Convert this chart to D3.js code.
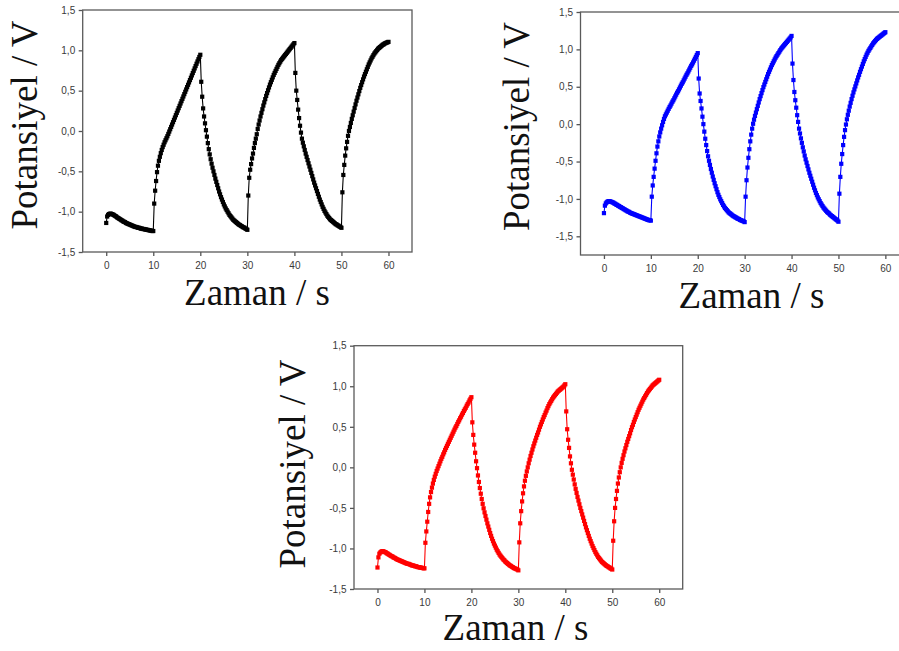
<!DOCTYPE html>
<html>
<head>
<meta charset="utf-8">
<script src="https://cdn.jsdelivr.net/npm/d3@7"></script>
<style>
  body { margin: 0; background: #fff; }
  svg { display: block; }
  .tick text { font-family: "Liberation Sans", Arial, sans-serif; font-size: 10px; fill: #3a3a3a; }
  .tick line { stroke: #555; stroke-width: 1.3; }
  .title { font-family: "Liberation Serif", "Times New Roman", serif; font-size: 37px; fill: #111; }
</style>
</head>
<body>
<svg id="chart" width="899" height="651"></svg>
<script>
// samples are 0.2 s apart, from 0 to 60 s
const timeStep = 0.2;
const xTicks = [0, 10, 20, 30, 40, 50, 60];
const yTicks = [-1.5, -1, -0.5, 0, 0.5, 1, 1.5];
const xTitle = "Zaman / s";
const yTitle = "Potansiyel / V";

// potential (V), top-left panel
const blackPotential = [
  -1.14,-1.06,-1.04,-1.03,-1.025,-1.025,-1.03,-1.035,-1.04,-1.05,
  -1.055,-1.065,-1.075,-1.08,-1.09,-1.095,-1.105,-1.11,-1.12,-1.125,
  -1.13,-1.14,-1.145,-1.15,-1.155,-1.16,-1.165,-1.17,-1.175,-1.18,
  -1.185,-1.19,-1.19,-1.195,-1.2,-1.2,-1.205,-1.21,-1.21,-1.215,
  -1.215,-1.22,-1.22,-1.225,-1.225,-1.23,-1.23,-1.235,-1.235,-1.24,
  -1.24,
  -0.9,-0.74,-0.62,-0.51,-0.43,-0.37,-0.32,-0.275,-0.235,-0.2,
  -0.17,-0.14,-0.115,-0.09,-0.065,-0.036,-0.007,0.022,0.051,0.08,
  0.109,0.138,0.167,0.196,0.225,0.254,0.283,0.312,0.341,0.37,
  0.399,0.428,0.457,0.486,0.515,0.544,0.573,0.602,0.631,0.66,
  0.689,0.718,0.747,0.776,0.805,0.834,0.862,0.89,0.918,0.945,
  0.61,0.425,0.28,0.18,0.095,0.01,-0.07,-0.15,-0.225,-0.29,
  -0.35,-0.405,-0.455,-0.5,-0.545,-0.59,-0.63,-0.67,-0.71,-0.75,
  -0.785,-0.82,-0.85,-0.88,-0.91,-0.935,-0.96,-0.98,-1.0,-1.02,
  -1.04,-1.055,-1.07,-1.085,-1.1,-1.11,-1.12,-1.13,-1.14,-1.15,
  -1.16,-1.165,-1.175,-1.18,-1.19,-1.195,-1.2,-1.21,-1.215,-1.225,
  -0.8,-0.58,-0.48,-0.41,-0.34,-0.28,-0.21,-0.15,-0.095,-0.04,
  0.025,0.08,0.13,0.18,0.225,0.27,0.315,0.355,0.395,0.435,
  0.47,0.505,0.54,0.575,0.605,0.635,0.665,0.695,0.72,0.745,
  0.77,0.795,0.82,0.84,0.86,0.88,0.895,0.91,0.925,0.94,
  0.955,0.97,0.985,1.0,1.015,1.03,1.045,1.06,1.075,1.09,
  0.72,0.5,0.385,0.265,0.16,0.065,-0.02,-0.095,-0.145,-0.19,
  -0.235,-0.28,-0.32,-0.36,-0.4,-0.44,-0.48,-0.52,-0.56,-0.6,
  -0.64,-0.675,-0.71,-0.745,-0.78,-0.815,-0.85,-0.88,-0.91,-0.94,
  -0.965,-0.99,-1.01,-1.03,-1.05,-1.065,-1.08,-1.095,-1.105,-1.115,
  -1.125,-1.135,-1.145,-1.155,-1.16,-1.17,-1.175,-1.185,-1.19,-1.2,
  -0.76,-0.545,-0.42,-0.305,-0.215,-0.135,-0.06,0.0,0.05,0.1,
  0.15,0.195,0.24,0.285,0.33,0.375,0.415,0.455,0.495,0.535,
  0.57,0.605,0.64,0.675,0.705,0.735,0.765,0.795,0.825,0.85,
  0.875,0.9,0.92,0.94,0.96,0.975,0.99,1.005,1.02,1.03,
  1.04,1.05,1.06,1.07,1.075,1.085,1.09,1.095,1.1,1.105
];

// potential (V), top-right panel
const bluePotential = [
  -1.19,-1.09,-1.06,-1.045,-1.035,-1.03,-1.03,-1.035,-1.04,-1.045,
  -1.05,-1.06,-1.065,-1.075,-1.08,-1.09,-1.095,-1.105,-1.11,-1.12,
  -1.125,-1.135,-1.14,-1.15,-1.155,-1.165,-1.17,-1.175,-1.185,-1.19,
  -1.195,-1.2,-1.205,-1.21,-1.215,-1.22,-1.225,-1.23,-1.235,-1.24,
  -1.245,-1.25,-1.255,-1.26,-1.265,-1.27,-1.275,-1.28,-1.285,-1.285,
  -1.29,
  -0.97,-0.82,-0.705,-0.595,-0.49,-0.39,-0.3,-0.23,-0.165,-0.11,
  -0.06,-0.015,0.03,0.07,0.105,0.13,0.155,0.18,0.205,0.23,
  0.25,0.275,0.3,0.32,0.345,0.37,0.395,0.42,0.44,0.465,
  0.49,0.515,0.54,0.56,0.585,0.61,0.635,0.66,0.68,0.705,
  0.73,0.755,0.78,0.8,0.825,0.85,0.875,0.9,0.925,0.95,
  0.61,0.41,0.31,0.21,0.1,0.0,-0.1,-0.195,-0.28,-0.36,
  -0.43,-0.49,-0.545,-0.6,-0.65,-0.7,-0.745,-0.79,-0.83,-0.87,
  -0.91,-0.945,-0.975,-1.005,-1.03,-1.055,-1.08,-1.1,-1.12,-1.135,
  -1.15,-1.165,-1.18,-1.19,-1.2,-1.21,-1.22,-1.23,-1.235,-1.245,
  -1.25,-1.26,-1.265,-1.27,-1.28,-1.285,-1.29,-1.295,-1.3,-1.31,
  -0.97,-0.75,-0.58,-0.45,-0.335,-0.23,-0.14,-0.06,0.005,0.06,
  0.11,0.155,0.2,0.245,0.29,0.335,0.375,0.415,0.455,0.495,
  0.53,0.565,0.6,0.635,0.67,0.7,0.73,0.76,0.79,0.815,
  0.84,0.865,0.89,0.91,0.93,0.95,0.97,0.99,1.01,1.025,
  1.04,1.055,1.07,1.085,1.1,1.115,1.13,1.145,1.16,1.18,
  0.81,0.59,0.43,0.32,0.22,0.12,0.03,-0.06,-0.125,-0.19,
  -0.25,-0.31,-0.365,-0.42,-0.47,-0.515,-0.56,-0.605,-0.65,-0.69,
  -0.73,-0.77,-0.81,-0.85,-0.885,-0.92,-0.95,-0.98,-1.005,-1.03,
  -1.055,-1.075,-1.095,-1.115,-1.13,-1.145,-1.16,-1.175,-1.185,-1.195,
  -1.21,-1.22,-1.23,-1.24,-1.25,-1.26,-1.27,-1.28,-1.29,-1.305,
  -0.93,-0.705,-0.53,-0.4,-0.28,-0.17,-0.08,-0.005,0.065,0.125,
  0.18,0.235,0.285,0.335,0.38,0.425,0.465,0.505,0.545,0.585,
  0.625,0.66,0.7,0.735,0.77,0.805,0.84,0.87,0.9,0.93,
  0.955,0.98,1.0,1.02,1.04,1.06,1.08,1.095,1.11,1.125,
  1.14,1.15,1.16,1.17,1.18,1.19,1.2,1.21,1.22,1.23
];

// potential (V), bottom panel
const redPotential = [
  -1.235,-1.11,-1.065,-1.05,-1.04,-1.035,-1.035,-1.04,-1.045,-1.05,
  -1.06,-1.065,-1.075,-1.08,-1.09,-1.095,-1.1,-1.11,-1.115,-1.12,
  -1.13,-1.135,-1.14,-1.145,-1.15,-1.155,-1.16,-1.165,-1.17,-1.175,
  -1.18,-1.185,-1.19,-1.19,-1.195,-1.2,-1.205,-1.21,-1.21,-1.215,
  -1.22,-1.22,-1.225,-1.23,-1.23,-1.235,-1.235,-1.24,-1.24,-1.245,
  -1.245,
  -0.93,-0.79,-0.67,-0.55,-0.45,-0.37,-0.305,-0.25,-0.2,-0.155,
  -0.115,-0.08,-0.045,-0.015,0.015,0.045,0.075,0.105,0.13,0.16,
  0.185,0.215,0.24,0.265,0.29,0.315,0.34,0.365,0.39,0.415,
  0.44,0.465,0.49,0.51,0.535,0.56,0.58,0.605,0.625,0.65,
  0.67,0.695,0.715,0.735,0.76,0.78,0.8,0.825,0.845,0.865,
  0.555,0.4,0.28,0.18,0.075,-0.01,-0.1,-0.18,-0.255,-0.325,
  -0.39,-0.45,-0.505,-0.555,-0.6,-0.645,-0.69,-0.73,-0.77,-0.81,
  -0.845,-0.88,-0.91,-0.94,-0.965,-0.99,-1.015,-1.035,-1.055,-1.075,
  -1.09,-1.105,-1.12,-1.135,-1.145,-1.16,-1.17,-1.18,-1.19,-1.2,
  -1.21,-1.215,-1.225,-1.23,-1.24,-1.245,-1.25,-1.255,-1.26,-1.27,
  -0.925,-0.69,-0.54,-0.42,-0.32,-0.235,-0.165,-0.105,-0.05,0.0,
  0.05,0.095,0.14,0.18,0.22,0.26,0.295,0.33,0.365,0.4,
  0.43,0.465,0.5,0.53,0.56,0.59,0.62,0.645,0.675,0.7,
  0.73,0.755,0.78,0.8,0.82,0.84,0.86,0.875,0.89,0.905,
  0.92,0.935,0.945,0.955,0.965,0.975,0.985,0.995,1.01,1.025,
  0.69,0.47,0.34,0.24,0.135,0.05,-0.03,-0.09,-0.15,-0.21,
  -0.265,-0.315,-0.365,-0.41,-0.455,-0.5,-0.54,-0.58,-0.62,-0.66,
  -0.7,-0.74,-0.775,-0.81,-0.845,-0.88,-0.91,-0.94,-0.97,-0.995,
  -1.02,-1.045,-1.065,-1.085,-1.105,-1.12,-1.135,-1.15,-1.165,-1.175,
  -1.185,-1.195,-1.205,-1.215,-1.22,-1.23,-1.235,-1.245,-1.25,-1.26,
  -0.905,-0.665,-0.5,-0.39,-0.29,-0.2,-0.125,-0.06,0.0,0.055,
  0.105,0.15,0.195,0.235,0.275,0.315,0.35,0.385,0.42,0.46,
  0.495,0.525,0.56,0.59,0.62,0.65,0.68,0.71,0.735,0.76,
  0.785,0.81,0.835,0.855,0.875,0.895,0.915,0.935,0.95,0.965,
  0.98,0.995,1.01,1.02,1.03,1.04,1.05,1.06,1.07,1.08
];

// where each panel sits on the page
const panels = [
  {values: blackPotential, color: "#000000", left: 82.7, right: 412, top: 10, bottom: 252, yMin: -1.5,
   xTitlePos: [257, 305], yTitlePos: [37, 125]},
  {values: bluePotential, color: "#0000ff", left: 580.5, right: 908.8, top: 12, bottom: 255, yMin: -1.75,
   xTitlePos: [751.5, 308], yTitlePos: [529, 126.5]},
  {values: redPotential, color: "#ff0000", left: 354, right: 682.7, top: 345.7, bottom: 589, yMin: -1.5,
   xTitlePos: [515.5, 640], yTitlePos: [305, 464]}
];

// comma as decimal mark, plain hyphen for minus
const commaFormat = d3.formatLocale({decimal: ",", thousands: ".", grouping: [3], currency: ["", ""], minus: "-"}).format(".1f");

const svg = d3.select("#chart");
svg.append("rect").attr("width", 899).attr("height", 651).attr("fill", "#fff");

panels.forEach(function(p) {
    const x = d3.scaleLinear().domain([-5, 65]).range([p.left, p.right]);
    const y = d3.scaleLinear().domain([p.yMin, 1.5]).range([p.bottom, p.top]);
    const g = svg.append("g");

    // axes
    const xAxis = g.append("g")
        .attr("transform", "translate(0," + p.bottom + ")")
        .call(d3.axisBottom(x).tickValues(xTicks).tickSize(4).tickPadding(6).tickFormat(d3.format("d")));
    xAxis.select(".domain").remove();

    const yAxis = g.append("g")
        .attr("transform", "translate(" + p.left + ",0)")
        .call(d3.axisLeft(y).tickValues(yTicks).tickSize(4).tickPadding(3.5).tickFormat(commaFormat));
    yAxis.select(".domain").remove();

    // data: thin line plus square markers
    const pts = p.values.map(function(v, i) { return [i * timeStep, v]; });
    const line = d3.line()
        .x(function(d) { return x(d[0]); })
        .y(function(d) { return y(d[1]); });

    g.append("path")
        .datum(pts)
        .attr("d", line)
        .attr("fill", "none")
        .attr("stroke", p.color)
        .attr("stroke-width", 1.1);

    const size = 4.2;
    g.selectAll(".pt")
        .data(pts)
        .join("rect")
        .attr("class", "pt")
        .attr("x", function(d) { return x(d[0]) - size / 2; })
        .attr("y", function(d) { return y(d[1]) - size / 2; })
        .attr("width", size)
        .attr("height", size)
        .attr("fill", p.color);

    // frame
    g.append("rect")
        .attr("x", p.left)
        .attr("y", p.top)
        .attr("width", p.right - p.left)
        .attr("height", p.bottom - p.top)
        .attr("fill", "none")
        .attr("stroke", "#5a5a5a")
        .attr("stroke-width", 1.3);

    // titles
    g.append("text")
        .attr("class", "title")
        .attr("x", p.xTitlePos[0])
        .attr("y", p.xTitlePos[1])
        .attr("text-anchor", "middle")
        .text(xTitle);

    g.append("text")
        .attr("class", "title")
        .attr("transform", "translate(" + p.yTitlePos[0] + "," + p.yTitlePos[1] + ") rotate(-90)")
        .attr("text-anchor", "middle")
        .text(yTitle);
});
</script>
</body>
</html>
